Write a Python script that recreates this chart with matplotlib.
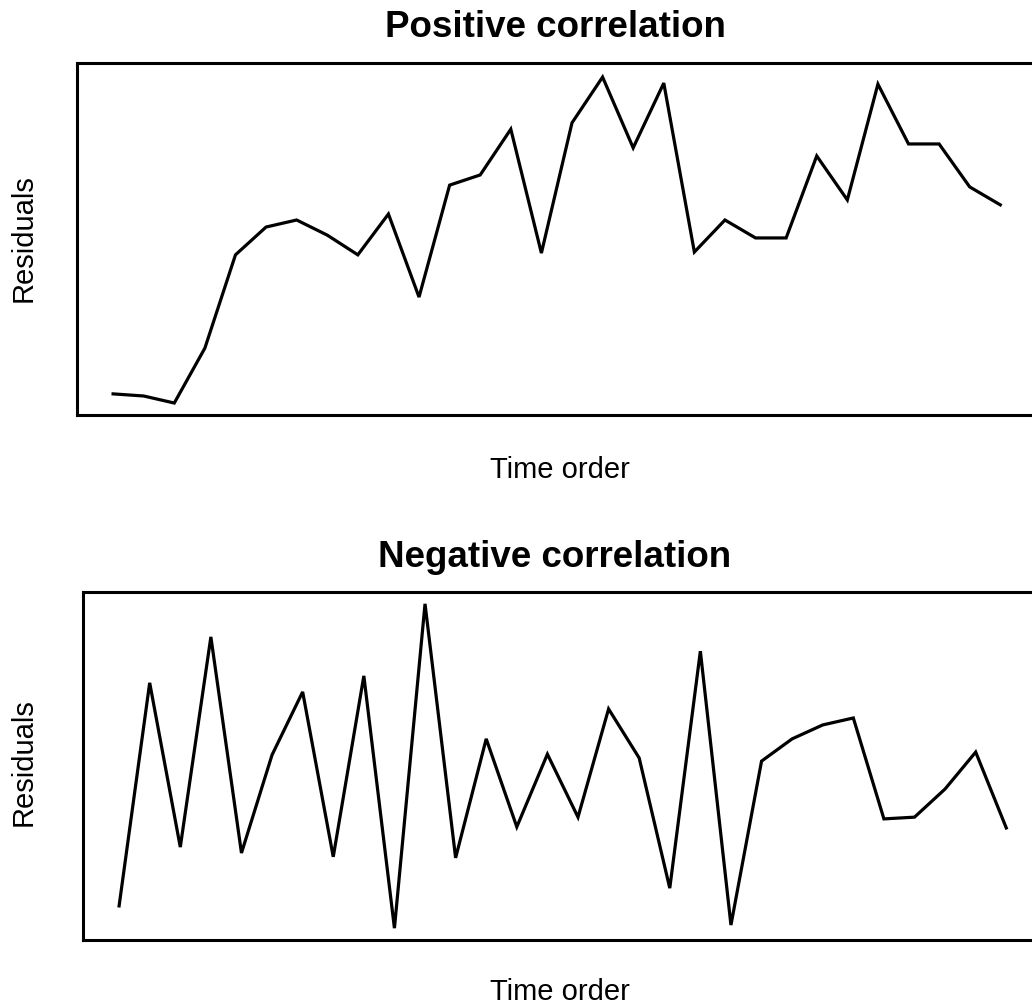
import matplotlib
matplotlib.use("Agg")
import matplotlib.pyplot as plt
import numpy as np

plt.rcParams['font.family'] = ['Liberation Sans', 'DejaVu Sans']

# Residuals in time order (arbitrary units, 0-10 scale)
positive_resid = [0.60, 0.54, 0.34, 1.90, 4.55, 5.34, 5.54, 5.11, 4.55, 5.71,
                  3.35, 6.53, 6.82, 8.12, 4.60, 8.30, 9.60, 7.59, 9.43, 4.63,
                  5.54, 5.03, 5.03, 7.36, 6.11, 9.40, 7.70, 7.70, 6.48, 5.97]
negative_resid = [0.98, 7.39, 2.67, 8.71, 2.50, 5.32, 7.13, 2.39, 7.59, 0.34,
                  9.66, 2.36, 5.78, 3.25, 5.34, 3.53, 6.64, 5.23, 1.49, 8.30,
                  0.43, 5.14, 5.78, 6.18, 6.38, 3.48, 3.53, 4.34, 5.40, 3.22]
titles = ["Positive correlation", "Negative correlation"]
x_label = "Time order"
y_label = "Residuals"

W, H = 1032, 1005
fig = plt.figure(figsize=(W / 100, H / 100), dpi=100)

def px_axes(left, top, bottom, width):
    return fig.add_axes([left / W, 1 - bottom / H, width / W, (bottom - top) / H])

# (axes, data, title baseline, x-label baseline, y-label centre) in pixels
panels = [
    (px_axes(77, 63, 415, 960), positive_resid, 37, 478, 238),
    (px_axes(83, 592, 940, 960), negative_resid, 567, 1000, 762),
]

for i, (ax, resid, ty, xly, yly) in enumerate(panels):
    t = np.arange(len(resid))
    ax.plot(t, resid, color='black', lw=2.3, solid_joinstyle='miter')
    ax.set_xlim(-1.18, 30.2)
    ax.set_ylim(0, 10)
    ax.set_xticks([])
    ax.set_yticks([])
    for s in ax.spines.values():
        s.set_linewidth(2.2)
    fig.text(555 / W, 1 - ty / H, titles[i], ha='center', va='baseline',
             fontsize=26.5, fontweight='bold')
    fig.text(560 / W, 1 - xly / H, x_label, ha='center', va='baseline',
             fontsize=21)
    fig.text(24 / W, 1 - yly / H, y_label, ha='center', va='center',
             fontsize=21, rotation=90)

fig.savefig("out.png", dpi=100, facecolor='white')
